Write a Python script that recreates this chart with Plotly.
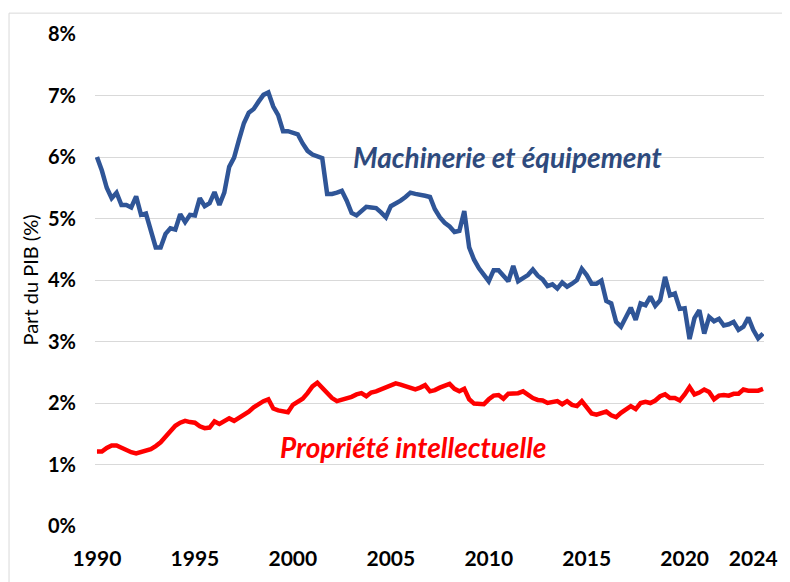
import plotly.graph_objects as go

# Quarterly data 1990Q1 .. 2024Q1 (share of GDP, %)
machinerie = [
    6.00, 5.78, 5.50, 5.33,
    5.42, 5.22, 5.22, 5.18,
    5.36, 5.06, 5.08, 4.80,
    4.53, 4.53, 4.75, 4.84,
    4.82, 5.07, 4.94, 5.06,
    5.05, 5.33, 5.20, 5.25,
    5.43, 5.22, 5.42, 5.84,
    5.99, 6.28, 6.55, 6.72,
    6.78, 6.90, 7.01, 7.05,
    6.82, 6.68, 6.42, 6.42,
    6.39, 6.37, 6.22, 6.10,
    6.04, 6.01, 5.98, 5.40,
    5.40, 5.42, 5.45, 5.29,
    5.09, 5.05, 5.12, 5.19,
    5.18, 5.17, 5.10, 5.02,
    5.20, 5.24, 5.29, 5.35,
    5.42, 5.40, 5.39, 5.37,
    5.35, 5.15, 5.02, 4.93,
    4.87, 4.78, 4.80, 5.12,
    4.53, 4.33, 4.19, 4.08,
    3.98, 4.16, 4.16, 4.07,
    3.98, 4.23, 3.98, 4.03,
    4.08, 4.17, 4.07, 4.01,
    3.90, 3.93, 3.86, 3.96,
    3.89, 3.94, 4.00, 4.18,
    4.08, 3.94, 3.94, 3.99,
    3.66, 3.62, 3.32, 3.24,
    3.40, 3.55, 3.35, 3.62,
    3.59, 3.73, 3.58, 3.67,
    4.05, 3.75, 3.78, 3.53,
    3.54, 3.04, 3.38, 3.51,
    3.13, 3.40, 3.33, 3.37,
    3.26, 3.28, 3.32, 3.19,
    3.24, 3.39, 3.19, 3.05,
    3.13,
]

propriete = [
    1.21, 1.21, 1.27, 1.31,
    1.31, 1.27, 1.23, 1.20,
    1.18, 1.20, 1.22, 1.25,
    1.30, 1.36, 1.45, 1.55,
    1.63, 1.68, 1.71, 1.69,
    1.68, 1.62, 1.59, 1.60,
    1.70, 1.66, 1.71, 1.75,
    1.71, 1.76, 1.80, 1.86,
    1.93, 1.99, 2.03, 2.06,
    1.91, 1.88, 1.86, 1.85,
    1.97, 2.01, 2.07, 2.16,
    2.27, 2.33, 2.24, 2.15,
    2.08, 2.03, 2.05, 2.08,
    2.10, 2.14, 2.16, 2.11,
    2.17, 2.19, 2.22, 2.25,
    2.29, 2.32, 2.30, 2.27,
    2.24, 2.22, 2.25, 2.29,
    2.19, 2.21, 2.25, 2.28,
    2.31, 2.23, 2.19, 2.23,
    2.06, 1.99, 1.98, 1.98,
    2.06, 2.12, 2.13, 2.07,
    2.15, 2.15, 2.16, 2.19,
    2.13, 2.08, 2.05, 2.04,
    2.00, 2.02, 2.03, 1.98,
    2.03, 1.97, 1.95, 2.03,
    1.92, 1.83, 1.81, 1.83,
    1.86, 1.80, 1.77, 1.84,
    1.90, 1.95, 1.90, 2.00,
    2.02, 2.00, 2.04, 2.11,
    2.14, 2.08, 2.08, 2.04,
    2.14, 2.26, 2.14, 2.17,
    2.22, 2.18, 2.06, 2.12,
    2.13, 2.12, 2.15, 2.15,
    2.22, 2.20, 2.20, 2.20,
    2.23,
]

start_year = 1990
quarters = [start_year + i / 4 for i in range(len(machinerie))]

x_tick_vals = [1990, 1995, 2000, 2005, 2010, 2015, 2020, 2023.5]
x_tick_text = ["1990", "1995", "2000", "2005", "2010", "2015", "2020", "2024"]
y_tick_vals = [0, 1, 2, 3, 4, 5, 6, 7, 8]
y_tick_text = ["0%", "1%", "2%", "3%", "4%", "5%", "6%", "7%", "8%"]

label_machinerie = "Machinerie et équipement"
label_propriete = "Propriété intellectuelle"

blue = "#2F5597"
red = "#FF0000"
font_family = "Lato, 'Open Sans', sans-serif"

fig = go.Figure()
fig.add_trace(go.Scatter(x=quarters, y=machinerie, mode="lines",
                         line=dict(color=blue, width=4.5), name=label_machinerie))
fig.add_trace(go.Scatter(x=quarters, y=propriete, mode="lines",
                         line=dict(color=red, width=4.5), name=label_propriete))

fig.add_annotation(x=2010.96, y=6.0, text="<b><i>" + label_machinerie + "</i></b>",
                   showarrow=False, font=dict(family=font_family, size=28, color="#2E4A7D"))
fig.add_annotation(x=2006.14, y=1.29, text="<b><i>" + label_propriete + "</i></b>",
                   showarrow=False, font=dict(family=font_family, size=28, color=red))

# outer chart border
fig.add_shape(type="rect", xref="paper", yref="paper",
              x0=-0.1285, x1=1.06, y0=-0.2, y1=1.0424,
              line=dict(color="#D9D9D9", width=1))

fig.update_layout(
    width=782, height=574,
    margin=dict(l=87, r=22, t=26, b=53),
    plot_bgcolor="white", paper_bgcolor="white",
    showlegend=False,
    font=dict(family=font_family, color="black"),
    xaxis=dict(range=[1989.9, 2024.05], tickvals=x_tick_vals, ticktext=x_tick_text,
               showgrid=False, zeroline=False, showline=False, ticks="",
               tickfont=dict(size=21, family=font_family, weight="bold"),
               ticklabelstandoff=18),
    yaxis=dict(range=[0, 8], tickvals=y_tick_vals, ticktext=y_tick_text,
               showgrid=True, gridcolor="#D9D9D9", gridwidth=1,
               zeroline=False, showline=False, ticks="",
               tickfont=dict(size=20, family=font_family, weight="bold"),
               ticklabelstandoff=18,
               title=dict(text="Part du PIB (%)", font=dict(size=20, family=font_family),
                          standoff=4)),
)

fig.write_html("out.html")
